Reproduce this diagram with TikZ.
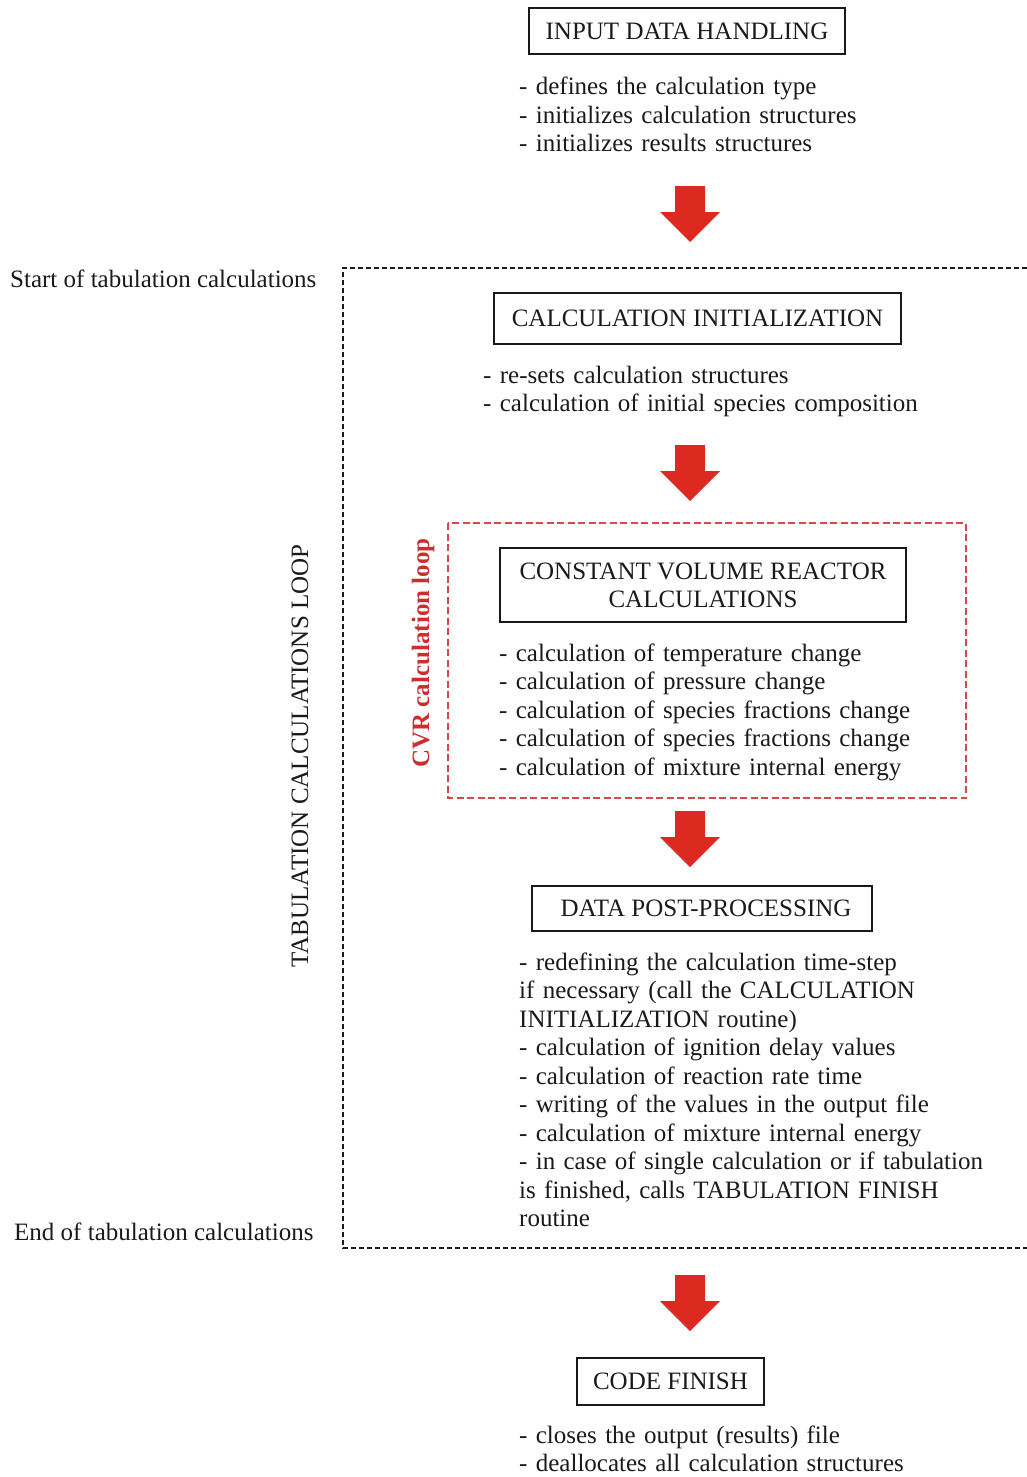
\documentclass[tikz,border=0pt]{standalone}
\usepackage{fontspec}
\setmainfont{Liberation Serif}
\definecolor{txt}{HTML}{1A1A1A}
\definecolor{arrowred}{HTML}{DC2A20}
\definecolor{loopred}{HTML}{D84848}
\definecolor{cvrred}{HTML}{CC2E2E}
\begin{document}
\begin{tikzpicture}[x=1pt,y=-1pt,
  every node/.style={text=txt, font=\fontsize{25}{28.5}\selectfont},
  stagebox/.style={draw=black!90, line width=2.6pt, inner sep=0pt, align=center},
  bullets/.style={anchor=base west, inner sep=0pt, text width=520pt, align=left},
  sidelabel/.style={anchor=base west, inner sep=0pt},
  bigarrow/.pic={\fill[arrowred] (-15,0) -- (15,0) -- (15,26) -- (30,26) -- (0,56) -- (-30,26) -- (-15,26) -- cycle;},
  tabloop/.style={draw=black!90, line width=2.8pt, dash pattern=on 5pt off 3pt},
  cvrloop/.style={draw=loopred, line width=1.6pt, dash pattern=on 7pt off 3.5pt}
]
\useasboundingbox (0,0) rectangle (1027,1477);

% stage 1
\node[stagebox, minimum width=316pt, minimum height=46pt] (input) at (687,31) {INPUT DATA HANDLING};
\node[bullets] (inputtxt) at (519,95) {- defines the calculation type\\- initializes calculation structures\\- initializes results structures};
\pic (a1) at (690,186) {bigarrow};

% tabulation loop
\coordinate (tl) at (343,268);
\coordinate (tr) at (1027,268);
\coordinate (bl) at (343,1248);
\coordinate (br) at (1027,1248);
\draw[tabloop] (tr) -- (tl) -- (bl) -- (br);
\node[sidelabel] (start) at (10,287) {Start of tabulation calculations};
\node[sidelabel] (end) at (14,1240) {End of tabulation calculations};
\node[rotate=90, inner sep=0pt] (tabl) at (300,756) {TABULATION CALCULATIONS LOOP};

% stage 2
\node[stagebox, minimum width=407pt, minimum height=51pt] (init) at (697.5,318.5) {CALCULATION INITIALIZATION};
\node[bullets] (inittxt) at (483,383) {- re-sets calculation structures\\- calculation of initial species composition};
\pic (a2) at (690,445) {bigarrow};

% CVR loop
\coordinate (cl) at (448,523);
\coordinate (cr) at (966,798);
\draw[cvrloop] (cl) rectangle (cr);
\node[rotate=90, inner sep=0pt, text=cvrred, font=\fontsize{25}{28.5}\selectfont\bfseries] (cvrl) at (423,653) {CVR calculation loop};
\node[stagebox, minimum width=406pt, minimum height=74pt, font=\fontsize{25}{28}\selectfont] (cvr) at (703,585) {CONSTANT VOLUME REACTOR\\CALCULATIONS};
\node[bullets] (cvrtxt) at (499,661) {- calculation of temperature change\\- calculation of pressure change\\- calculation of species fractions change\\- calculation of species fractions change\\- calculation of mixture internal energy};
\pic (a3) at (690,811) {bigarrow};

% stage 3
\node[stagebox, minimum width=340pt, minimum height=45pt] (post) at (702,908.5) {\hspace*{8pt}DATA POST-PROCESSING};
\node[bullets] (posttxt) at (519,970) {- redefining the calculation time-step\\if necessary (call the CALCULATION\\INITIALIZATION routine)\\- calculation of ignition delay values\\- calculation of reaction rate time\\- writing of the values in the output file\\- calculation of mixture internal energy\\- in case of single calculation or if tabulation\\is finished, calls TABULATION FINISH\\routine};
\pic (a4) at (690,1275) {bigarrow};

% stage 4
\node[stagebox, minimum width=187pt, minimum height=47pt] (finish) at (670.5,1381.5) {CODE FINISH};
\node[bullets] (finishtxt) at (519,1443) {- closes the output (results) file\\- deallocates all calculation structures};
\end{tikzpicture}
\end{document}
